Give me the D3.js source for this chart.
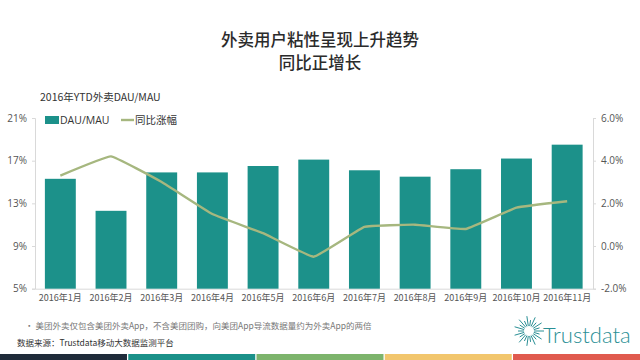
<!DOCTYPE html>
<html><head><meta charset="utf-8">
<script src="https://cdn.jsdelivr.net/npm/d3@7"></script>
<style>
html,body{margin:0;padding:0;background:#fff;}
svg{display:block;font-family:"Noto Sans CJK SC","Open Sans",sans-serif;}
</style></head>
<body>
<svg id="c" width="640" height="360"></svg>
<script>
const categories = ["2016年1月","2016年2月","2016年3月","2016年4月","2016年5月","2016年6月","2016年7月","2016年8月","2016年9月","2016年10月","2016年11月"];
const dauMau = [15.3, 12.3, 15.9, 15.9, 16.5, 17.1, 16.1, 15.5, 16.2, 17.2, 18.5];
const yoy = [3.3, 4.2, 3.0, 1.5, 0.6, -0.5, 0.9, 1.0, 0.8, 1.8, 2.1];
const leftTicks = [5, 9, 13, 17, 21];
const rightTicks = [-2, 0, 2, 4, 6];
const stripeColors = ["#1f2b3a", "#1b9189", "#7db46c", "#f2c66d", "#e05a4e"];

const svg = d3.select("#c");
const teal = "#1c918a";
const lineColor = "#a6b77f";

const x = d3.scaleBand().domain(categories).range([35, 592.5]).paddingInner(0.39).paddingOuter(0.195);
const yL = d3.scaleLinear().domain([5, 21]).range([288.7, 118]);
const yR = d3.scaleLinear().domain([-2, 6]).range([288.7, 118]);

// Title
svg.append("text").attr("x", 320).attr("y", 46).attr("text-anchor", "middle")
  .attr("font-size", 16.5).attr("font-weight", 500).attr("fill", "#2b2b2b").text("外卖用户粘性呈现上升趋势");
svg.append("text").attr("x", 320).attr("y", 69).attr("text-anchor", "middle")
  .attr("font-size", 16.5).attr("font-weight", 500).attr("fill", "#2b2b2b").text("同比正增长");

svg.append("text").attr("x", 40).attr("y", 101).attr("font-size", 10.5).attr("fill", "#333")
  .text("2016年YTD外卖DAU/MAU");

// Axes
const axL = d3.axisLeft(yL).tickValues(leftTicks).tickFormat(d => d + "%").tickSize(3).tickPadding(5);
const gL = svg.append("g").attr("transform", "translate(35,0)").call(axL);
const axR = d3.axisRight(yR).tickValues(rightTicks).tickFormat(d => d.toFixed(1) + "%").tickSize(3).tickPadding(5);
const gR = svg.append("g").attr("transform", "translate(593,0)").call(axR);
const axB = d3.axisBottom(x).tickSize(0).tickPadding(6);
const gB = svg.append("g").attr("transform", "translate(0,288.7)").call(axB);
[gL, gR, gB].forEach(g => {
  g.selectAll("path.domain").attr("stroke", "#d9d9d9");
  g.selectAll(".tick line").attr("stroke", "#d9d9d9");
  g.selectAll("text").attr("fill", "#555").attr("font-size", 10)
    .attr("font-family", "'Open Sans','Noto Sans CJK SC',sans-serif");
});
gB.selectAll("text").attr("font-family", "'Noto Sans CJK SC',sans-serif").attr("font-size", 9);

// Bars
svg.append("g").selectAll("rect").data(dauMau).join("rect")
  .attr("x", (d, i) => x(categories[i]))
  .attr("width", x.bandwidth())
  .attr("y", d => yL(d))
  .attr("height", d => yL(5) - yL(d))
  .attr("fill", teal);

// Line
const line = d3.line()
  .x((d, i) => x(categories[i]) + x.bandwidth() / 2)
  .y(d => yR(d))
  .curve(d3.curveCardinal.tension(0.75));
svg.append("path").datum(yoy).attr("d", line)
  .attr("fill", "none").attr("stroke", lineColor).attr("stroke-width", 2.4);

// Legend
svg.append("rect").attr("x", 45).attr("y", 116).attr("width", 14).attr("height", 8).attr("fill", teal);
svg.append("text").attr("x", 60).attr("y", 124).attr("font-size", 10.5).attr("fill", "#333")
  .attr("font-family", "'Open Sans',sans-serif").text("DAU/MAU");
svg.append("line").attr("x1", 121).attr("x2", 134).attr("y1", 120).attr("y2", 120)
  .attr("stroke", lineColor).attr("stroke-width", 2.4);
svg.append("text").attr("x", 135).attr("y", 124).attr("font-size", 10.5).attr("fill", "#333").text("同比涨幅");

// Notes
svg.append("text").attr("x", 25).attr("y", 329).attr("font-size", 8.5).attr("fill", "#777")
  .text("•  美团外卖仅包含美团外卖App，不含美团团购，向美团App导流数据量约为外卖App的两倍");
svg.append("text").attr("x", 17).attr("y", 346).attr("font-size", 8.5).attr("fill", "#333")
  .text("数据来源：Trustdata移动大数据监测平台");

// Logo
const logo = svg.append("g").attr("transform", "translate(529,331)");
const rays = d3.range(22);
logo.selectAll("line").data(rays).join("line")
  .attr("x1", d => Math.cos(d / 22 * 2 * Math.PI) * 5)
  .attr("y1", d => Math.sin(d / 22 * 2 * Math.PI) * 5)
  .attr("x2", d => Math.cos(d / 22 * 2 * Math.PI) * (d % 2 ? 11 : 15))
  .attr("y2", d => Math.sin(d / 22 * 2 * Math.PI) * (d % 2 ? 11 : 15))
  .attr("stroke", "#2a8f95").attr("stroke-width", 1);
svg.append("text").attr("x", 543).attr("y", 343).attr("font-size", 22).attr("font-weight", 300)
  .attr("fill", "#2a8f95").attr("font-family", "Lato,'Open Sans',sans-serif").text("Trustdata");

// Stripes
const sx = d3.scaleBand().domain(d3.range(stripeColors.length)).range([0, 640]).paddingInner(0.01);
svg.append("g").selectAll("rect").data(stripeColors).join("rect")
  .attr("x", (d, i) => sx(i)).attr("width", sx.bandwidth())
  .attr("y", 354).attr("height", 6).attr("fill", d => d);
</script>
</body></html>
